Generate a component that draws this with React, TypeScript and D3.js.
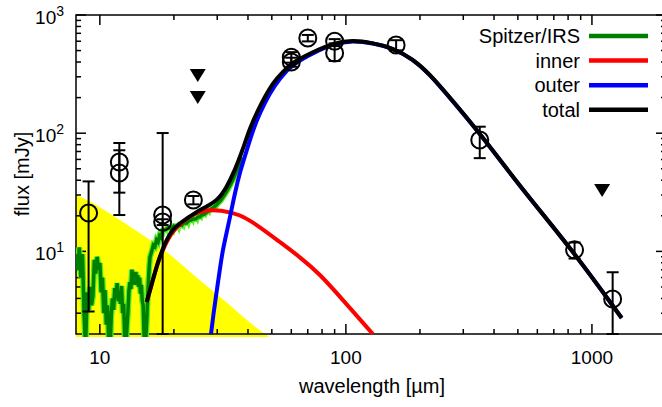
import React from 'react';
import * as d3 from 'd3';

const W = 662;
const H = 407;
const PL = 76, PR = 666, PT = 15, PB = 334;
const FONT = 'Liberation Sans, Arial, Helvetica, sans-serif';

// axes
const xDomain = [8, 2000];
const yDomain = [2, 1000];
const xMajor = [10, 100, 1000];
const xMajorLabels = ['10', '100', '1000'];
const yMajor = [10, 100, 1000];
const yMajorExp = ['1', '2', '3'];

// yellow region (upper boundary)
const bandWave = [8, 13.5, 17.6, 25.5, 33.8, 40.7, 46.9];
const bandFlux = [30, 15.8, 10.9, 5.7, 3.5, 2.5, 2.0];

// Spitzer/IRS spectrum
const specWave = [8.0, 8.125, 8.25, 8.375, 8.5, 8.625, 8.75, 8.875, 9.0, 9.125, 9.25, 9.375, 9.5, 9.625, 9.75, 9.875, 10.0, 10.125, 10.25, 10.375, 10.5, 10.625, 10.75, 10.875, 11.0, 11.125, 11.25, 11.375, 11.5, 11.625, 11.75, 11.875, 12.0, 12.125, 12.25, 12.375, 12.5, 12.625, 12.75, 12.875, 13.0, 13.125, 13.25, 13.375, 13.5, 13.625, 13.75, 13.875, 14.0, 14.125, 14.25, 14.375, 14.5, 14.625, 14.75, 14.875, 15.0, 15.125, 15.25, 15.375, 15.5, 15.625, 15.75, 15.875, 16.0, 16.25, 16.5, 16.75, 17.0, 17.25, 17.5, 17.75, 18.0, 18.5, 19, 19.5, 20, 20.5, 21, 21.5, 22, 22.5, 23, 23.5, 24, 24.5, 25, 25.5, 26, 26.5, 27, 27.5, 28, 28.5, 29, 29.5, 30, 31, 32, 33, 34, 35, 36, 37, 38];
const specFlux = [9.5, 7.0, 10.8, 6.0, 9.5, 3.0, 1.5, 4.5, 3.2, 5.0, 3.5, 4.2, 8.5, 6.5, 9.0, 7.0, 8.0, 4.5, 6.0, 3.0, 4.7, 2.4, 3.5, 1.6, 1.4, 2.8, 4.0, 3.2, 4.9, 4.0, 5.4, 3.8, 4.6, 3.6, 5.1, 3.0, 3.6, 1.8, 1.4, 2.2, 3.0, 4.6, 5.5, 4.8, 7.0, 5.6, 6.4, 5.2, 6.7, 5.5, 6.3, 5.0, 6.0, 4.4, 5.2, 3.8, 3.5, 2.0, 1.4, 1.8, 2.5, 3.8, 5.5, 7.5, 9.0, 10.0, 11.3, 11.0, 12.5, 12.0, 13.6, 13.2, 15.0, 15.3, 15.8, 15.6, 16.4, 16.2, 16.8, 16.6, 17.6, 17.4, 18.2, 18.4, 18.8, 18.8, 19.5, 19.6, 20.4, 20.6, 21.2, 21.8, 22.4, 23.0, 23.6, 24.2, 25.2, 27.0, 29.8, 33.0, 37.0, 42.0, 48.0, 55.0, 62.0];

// Spitzer/IRS noise envelope (light green)
const envWave = [17, 17.5, 18, 18.5, 19, 19.5, 20, 20.5, 21, 21.5, 22, 22.5, 23, 23.5, 24, 24.5, 25, 25.5, 26, 26.5, 27, 27.5, 28, 28.5, 29, 29.5, 30, 31, 32, 33, 34, 35];
const envFlux = [11, 14, 12.5, 15.5, 13.5, 16, 14, 16.5, 14.5, 17, 15.5, 18, 16, 18.8, 17, 19.5, 17.5, 20, 18.5, 21, 19.5, 22.3, 20.5, 23.5, 22, 24.6, 23, 27.5, 28, 33.5, 35, 42];

// inner disk model
const innerWave = [15.5, 16.3, 17.2, 18.4, 19.6, 21.6, 24.3, 27.2, 30.8, 37.1, 44.7, 53.9, 65.0, 78.4, 97.2, 128.7];
const innerFlux = [3.73, 5.4, 8.13, 11.3, 14.6, 17.7, 21.1, 22.4, 22.4, 20.7, 16.1, 12.0, 8.96, 6.44, 3.88, 2.0];

// outer disk model
const outerWave = [28.3, 29.1, 29.9, 30.8, 31.6, 32.8, 33.8, 35.4, 37.1, 39.6, 41.9, 44.7, 49.1, 53.9, 60.9, 73.4, 88.5, 106.7, 128.7, 155.1, 187.1, 219, 264, 350, 523, 835, 1321];
const outerFlux = [2.0, 3.19, 4.71, 7.24, 10.3, 14.6, 19.5, 31.2, 47.0, 72.1, 106.4, 148, 219, 293, 385, 477, 568, 610, 577, 524, 422, 315, 200, 100, 33.0, 10.2, 2.73];

// total model
const totalWave = [15.5, 16.3, 17.2, 18.4, 19.6, 21.6, 24.3, 27.2, 30.2, 32.8, 35.4, 37.8, 40.7, 43.9, 47.3, 50.5, 55.4, 60.9, 73.4, 88.5, 106.7, 128.7, 155.1, 187.1, 219, 264, 350, 523, 835, 1321];
const totalFlux = [3.73, 5.4, 8.13, 11.8, 15.2, 17.9, 21.1, 24.0, 27.2, 35.0, 48.8, 69.3, 110.6, 157, 210, 266, 329, 400, 486, 579, 614, 579, 526, 424, 317, 202, 100.3, 33.1, 10.2, 2.73];

// photometry
const photWave = [9, 12, 12, 18, 18, 24, 60, 60, 70, 90, 90, 160, 350, 850, 1214];
const photFlux = [21.1, 57, 46, 20.3, 17.7, 27.2, 440, 400, 638, 600, 477, 557, 87.5, 10.3, 3.96];
const photErr = [18, 25.6, 25.7, 80, 1, 2.2, 45, 35, 40, 25, 69, 55, 26, 1.6, 2.7];

// upper limits
const limWave = [25, 25, 1100];
const limFlux = [311, 202, 33];

// legend
const legendLabels = ['Spitzer/IRS', 'inner', 'outer', 'total'];
const legendColors = ['#008000', '#ff0000', '#0000ff', '#000000'];

export default function App() {
  const xs = d3.scaleLog().domain(xDomain).range([PL, PR]);
  const ys = d3.scaleLog().domain(yDomain).range([PB, PT]);

  const line = d3.line<[number, number]>()
    .x((d) => xs(d[0]))
    .y((d) => ys(d[1]))
    .curve(d3.curveBasis);
  const lineLin = d3.line<[number, number]>()
    .x((d) => xs(d[0]))
    .y((d) => ys(d[1]));
  const band = d3.area<[number, number]>()
    .x((d) => xs(d[0]))
    .y0(() => ys(1))
    .y1((d) => ys(d[1]))
    .curve(d3.curveMonotoneX);

  const zip = (a: number[], b: number[]) => a.map((v, i) => [v, b[i]] as [number, number]);

  const bandPts: [number, number][] = [[7, bandFlux[0] * 1.1], ...zip(bandWave, bandFlux), [60, 1.5]];
  const specPts = zip(specWave, specFlux);

  const xMinor = xs.ticks().filter((t) => t > 10 && t < 1000 && !xMajor.includes(t));
  const yMinor = ys.ticks().filter((t) => t > 2 && t < 1000 && !yMajor.includes(t));

  const ymin = yDomain[0];

  return (
    <svg width={W} height={H} style={{ position: 'absolute', left: 0, top: 0, background: '#fff' }} fontFamily={FONT}>
      <defs>
        <clipPath id="plot">
          <rect x={PL} y={PT} width={PR - PL} height={PB - PT + 3} />
        </clipPath>
      </defs>
      <rect x={0} y={0} width={W} height={H} fill="#fff" />
      <g clipPath="url(#plot)">
        <path d={band(bandPts) || ''} fill="#ffff00" stroke="none" />
      </g>

      {/* frame and ticks */}
      <g stroke="#000" strokeWidth={1.5}>
        <rect x={PL} y={PT} width={PR - PL} height={PB - PT} fill="none" />
        {xMajor.map((t) => (
          <g key={'xm' + t}>
            <line x1={xs(t)} x2={xs(t)} y1={PB} y2={PB - 10} />
            <line x1={xs(t)} x2={xs(t)} y1={PT} y2={PT + 10} />
          </g>
        ))}
        {xMinor.map((t) => (
          <g key={'xn' + t}>
            <line x1={xs(t)} x2={xs(t)} y1={PB} y2={PB - 5} />
            <line x1={xs(t)} x2={xs(t)} y1={PT} y2={PT + 5} />
          </g>
        ))}
        {yMajor.map((t) => (
          <g key={'ym' + t}>
            <line x1={PL} x2={PL + 10} y1={ys(t)} y2={ys(t)} />
            <line x1={PR} x2={PR - 10} y1={ys(t)} y2={ys(t)} />
          </g>
        ))}
        {yMinor.map((t) => (
          <g key={'yn' + t}>
            <line x1={PL} x2={PL + 5} y1={ys(t)} y2={ys(t)} />
            <line x1={PR} x2={PR - 5} y1={ys(t)} y2={ys(t)} />
          </g>
        ))}
      </g>

      <g clipPath="url(#plot)">
        <path d={lineLin(specPts) || ''} fill="none" stroke="#55ee22" strokeWidth={6} strokeLinejoin="miter" />
        <path d={lineLin(zip(envWave, envFlux)) || ''} fill="none" stroke="#55ee22" strokeWidth={1.5} />
        <path d={lineLin(specPts) || ''} fill="none" stroke="#008000" strokeWidth={3.5} strokeLinejoin="miter" />
        <path d={line(zip(innerWave, innerFlux)) || ''} fill="none" stroke="#ff0000" strokeWidth={4} />
        <path d={line(zip(outerWave, outerFlux)) || ''} fill="none" stroke="#0000ff" strokeWidth={4} />
        <path d={line(zip(totalWave, totalFlux)) || ''} fill="none" stroke="#000000" strokeWidth={4} />

        {photWave.map((w, i) => {
          const x = xs(w);
          const hi = ys(photFlux[i] + photErr[i]);
          const lo = ys(Math.max(photFlux[i] - photErr[i], ymin));
          return (
            <g key={'p' + i} stroke="#000" strokeWidth={2} fill="none">
              <line x1={x} x2={x} y1={hi} y2={lo} />
              <line x1={x - 6} x2={x + 6} y1={hi} y2={hi} />
              <line x1={x - 6} x2={x + 6} y1={lo} y2={lo} />
              <circle cx={x} cy={ys(photFlux[i])} r={8.5} />
            </g>
          );
        })}
        {limWave.map((w, i) => {
          const x = xs(w);
          const y = ys(limFlux[i]);
          return <path key={'l' + i} d={`M${x - 8},${y - 6}L${x + 8},${y - 6}L${x},${y + 7}Z`} fill="#000" />;
        })}
      </g>

      {/* tick labels */}
      <g fontSize={19} fill="#000">
        {xMajor.map((t, i) => (
          <text key={'xl' + t} x={xs(t)} y={364} textAnchor="middle">{xMajorLabels[i]}</text>
        ))}
        {yMajor.map((t, i) => (
          <text key={'yl' + t} x={64} y={ys(t) + 9} textAnchor="end">
            10<tspan fontSize={14} dy={-8}>{yMajorExp[i]}</tspan>
          </text>
        ))}
      </g>
      <g fontSize={20} fill="#000">
        <text x={372} y={393} textAnchor="middle">wavelength [µm]</text>
        <text transform="translate(29,174) rotate(-90)" textAnchor="middle">flux [mJy]</text>
      </g>

      {/* legend */}
      <g fontSize={20}>
        {legendLabels.map((l, i) => {
          const y = 36 + i * 24.6;
          return (
            <g key={l}>
              <text x={580} y={y + 7} textAnchor="end" fill="#000">{l}</text>
              <line x1={589} x2={648} y1={y} y2={y} stroke={legendColors[i]} strokeWidth={4.5} />
            </g>
          );
        })}
      </g>
    </svg>
  );
}
